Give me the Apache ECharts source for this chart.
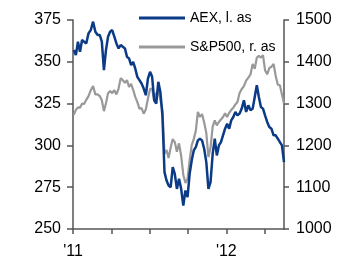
<!DOCTYPE html>
<html>
<head>
<meta charset="utf-8">
<script src="https://cdn.jsdelivr.net/npm/echarts@6/dist/echarts.min.js"></script>
<style>
  html, body { margin: 0; padding: 0; background: #fff; }
  #chart { width: 353px; height: 274px; }
</style>
</head>
<body>
<div id="chart"></div>
<script>
// sample dates (every 5 days, Jan 2011 - May 2012)
var dates = [
  '2011-01-03','2011-01-08','2011-01-13','2011-01-18','2011-01-23','2011-01-28',
  '2011-02-02','2011-02-07','2011-02-12','2011-02-17','2011-02-22','2011-02-27',
  '2011-03-04','2011-03-09','2011-03-14','2011-03-19','2011-03-24','2011-03-29',
  '2011-04-03','2011-04-08','2011-04-13','2011-04-18','2011-04-23','2011-04-28',
  '2011-05-03','2011-05-08','2011-05-13','2011-05-18','2011-05-23','2011-05-28',
  '2011-06-02','2011-06-07','2011-06-12','2011-06-17','2011-06-22','2011-06-27',
  '2011-07-02','2011-07-07','2011-07-12','2011-07-17','2011-07-22','2011-07-27',
  '2011-08-01','2011-08-06','2011-08-11','2011-08-16','2011-08-21','2011-08-26','2011-08-31',
  '2011-09-05','2011-09-10','2011-09-15','2011-09-20','2011-09-25','2011-09-30',
  '2011-10-05','2011-10-10','2011-10-15','2011-10-20','2011-10-25','2011-10-30',
  '2011-11-04','2011-11-09','2011-11-14','2011-11-19','2011-11-24','2011-11-29',
  '2011-12-04','2011-12-09','2011-12-14','2011-12-19','2011-12-24','2011-12-29',
  '2012-01-03','2012-01-08','2012-01-13','2012-01-18','2012-01-23','2012-01-28',
  '2012-02-02','2012-02-07','2012-02-12','2012-02-17','2012-02-22','2012-02-27',
  '2012-03-03','2012-03-08','2012-03-13','2012-03-18','2012-03-23','2012-03-28',
  '2012-04-02','2012-04-07','2012-04-12','2012-04-17','2012-04-22','2012-04-27',
  '2012-05-02','2012-05-07','2012-05-12','2012-05-17'
];

// AEX, left axis
var aex = [
  357,354,362,356,363,362, 361,367,369,374,368,366, 366,362,345,357,365,368,
  369,365,361,358,360,359, 358,353,352,348,350,346, 341,339,337,334,330,340,
  344,341,327,325,338,332, 318,284,279,276,275,287,283, 274,280,274,264,273,269,
  283,291,297,299,303,304, 303,298,290,274,278,295, 304,294,300,302,306,310,
  313,310,315,317,320,318, 319,322,327,320,324,321, 322,329,336,329,323,322,
  318,314,311,310,306,306, 304,302,300,290
];

// S&P500, right axis
var spx = [
  1273,1285,1291,1290,1300,1299, 1309,1318,1332,1342,1322,1322, 1318,1308,1282,1301,1325,1330,
  1325,1332,1322,1336,1361,1356, 1350,1356,1340,1347,1333,1316, 1304,1288,1289,1276,1286,1312,
  1335,1335,1309,1325,1332,1310, 1285,1180,1189,1170,1195,1215,1208, 1185,1205,1175,1130,1110,1120,
  1165,1200,1215,1235,1280,1268, 1275,1255,1230,1172,1195,1245, 1260,1248,1256,1262,1268,1277,
  1268,1278,1285,1290,1298,1304, 1325,1335,1342,1355,1362,1370, 1395,1383,1410,1414,1410,1416,
  1380,1370,1385,1388,1395,1366, 1345,1344,1322,1300
];

var leftTicks = [250, 375, 25];
var rightTicks = [1000, 1500, 100];
var xTicks = [0, 3, 6, 9, 12, 15];     // months from Jan 2011 (quarters)
var xLabels = { 0: "'11", 12: "'12" };
var xEnd = 16.516;                      // mid May 2012

// months since 1 Jan 2011
function toMonth(s) {
  var p = s.split('-');
  var y = +p[0], m = +p[1], d = +p[2];
  var dim = new Date(y, m, 0).getDate();
  return (y - 2011) * 12 + (m - 1) + (d - 1) / dim;
}

var font = 'Liberation Sans, Arial, sans-serif';
var axisCol = '#555';
var legendText = { fontFamily: font, fontSize: 14, lineHeight: 16, color: '#000' };

var chart = echarts.init(document.getElementById('chart'));
var option = {
  animation: false,
  grid: { left: 73, right: 69, top: 20, bottom: 45 },
  legend: [{
    left: 139, top: 10, padding: 0, itemWidth: 46, itemHeight: 3, icon: 'rect',
    data: ['AEX, l. as'], textStyle: legendText
  }, {
    left: 139, top: 39, padding: 0, itemWidth: 46, itemHeight: 3, icon: 'rect',
    data: ['S&P500, r. as'], textStyle: legendText
  }],
  xAxis: {
    type: 'value', min: 0, max: xEnd,
    splitLine: { show: false },
    axisLine: { lineStyle: { color: axisCol, width: 1.5 } },
    axisTick: { inside: false, length: 5, customValues: xTicks, lineStyle: { color: axisCol, width: 1.5 } },
    axisLabel: {
      customValues: [0, 12], margin: 15,
      fontFamily: font, fontSize: 16, color: '#000',
      formatter: function (v) { return xLabels[v] || ''; }
    }
  },
  yAxis: [{
    type: 'value', position: 'left',
    min: leftTicks[0], max: leftTicks[1], interval: leftTicks[2],
    splitLine: { show: false },
    axisLine: { show: true, lineStyle: { color: axisCol, width: 1.5 } },
    axisTick: { show: true, length: 6, lineStyle: { color: axisCol, width: 1.5 } },
    axisLabel: { margin: 12, fontFamily: font, fontSize: 16, color: '#000' }
  }, {
    type: 'value', position: 'right',
    min: rightTicks[0], max: rightTicks[1], interval: rightTicks[2],
    splitLine: { show: false },
    axisLine: { show: true, lineStyle: { color: axisCol, width: 1.5 } },
    axisTick: { show: true, length: 5, lineStyle: { color: axisCol, width: 1.5 } },
    axisLabel: {
      margin: 12, fontFamily: font, fontSize: 16, color: '#000',
      formatter: function (v) { return String(v); }
    }
  }],
  series: [{
    name: 'S&P500, r. as', type: 'line', yAxisIndex: 1,
    symbol: 'none', z: 2,
    lineStyle: { color: '#999999', width: 2.2 },
    itemStyle: { color: '#999999' },
    data: dates.map(function (d, i) { return [toMonth(d), spx[i]]; })
  }, {
    name: 'AEX, l. as', type: 'line', yAxisIndex: 0,
    symbol: 'none', z: 3,
    lineStyle: { color: '#0b3a86', width: 2.5 },
    itemStyle: { color: '#0b3a86' },
    data: dates.map(function (d, i) { return [toMonth(d), aex[i]]; })
  }]
};
chart.setOption(option);
</script>
</body>
</html>
